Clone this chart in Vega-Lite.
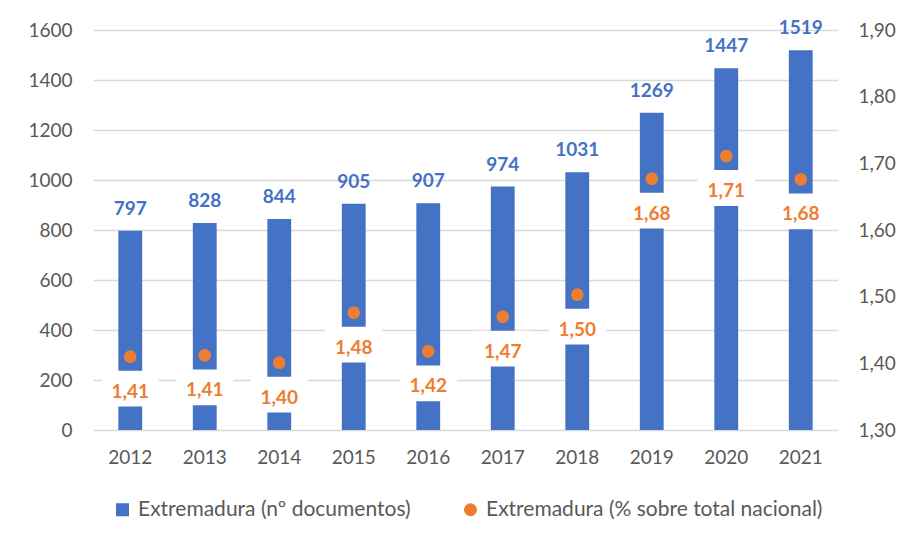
{
  "$schema": "https://vega.github.io/schema/vega-lite/v6.json",
  "width": 745,
  "height": 400,
  "autosize": "none",
  "padding": {"left": 93, "top": 30, "right": 65, "bottom": 110},
  "config": {
    "font": "Lato",
    "locale": {"number": {"decimal": ",", "thousands": ".", "grouping": [3], "currency": ["", " €"]}},
    "view": {"stroke": null},
    "axis": {"labelFont": "Lato", "labelFontSize": 19, "labelColor": "#595959", "domain": false, "ticks": false, "title": null},
    "legend": {"labelFont": "Lato", "labelFontSize": 21, "labelColor": "#595959", "padding": 0, "labelLimit": 0}
  },
  "data": {
    "values": [
      {"year": "2012", "serie": "Extremadura (nº documentos)", "value": 797},
      {"year": "2013", "serie": "Extremadura (nº documentos)", "value": 828},
      {"year": "2014", "serie": "Extremadura (nº documentos)", "value": 844},
      {"year": "2015", "serie": "Extremadura (nº documentos)", "value": 905},
      {"year": "2016", "serie": "Extremadura (nº documentos)", "value": 907},
      {"year": "2017", "serie": "Extremadura (nº documentos)", "value": 974},
      {"year": "2018", "serie": "Extremadura (nº documentos)", "value": 1031},
      {"year": "2019", "serie": "Extremadura (nº documentos)", "value": 1269},
      {"year": "2020", "serie": "Extremadura (nº documentos)", "value": 1447},
      {"year": "2021", "serie": "Extremadura (nº documentos)", "value": 1519},
      {"year": "2012", "serie": "Extremadura (% sobre total nacional)", "value": 1.41},
      {"year": "2013", "serie": "Extremadura (% sobre total nacional)", "value": 1.412},
      {"year": "2014", "serie": "Extremadura (% sobre total nacional)", "value": 1.401},
      {"year": "2015", "serie": "Extremadura (% sobre total nacional)", "value": 1.476},
      {"year": "2016", "serie": "Extremadura (% sobre total nacional)", "value": 1.418},
      {"year": "2017", "serie": "Extremadura (% sobre total nacional)", "value": 1.47},
      {"year": "2018", "serie": "Extremadura (% sobre total nacional)", "value": 1.503},
      {"year": "2019", "serie": "Extremadura (% sobre total nacional)", "value": 1.677},
      {"year": "2020", "serie": "Extremadura (% sobre total nacional)", "value": 1.711},
      {"year": "2021", "serie": "Extremadura (% sobre total nacional)", "value": 1.676}
    ]
  },
  "encoding": {
    "x": {
      "field": "year",
      "type": "ordinal",
      "scale": {"paddingInner": 0.68, "paddingOuter": 0.34},
      "axis": {"labelAngle": 0, "labelPadding": 18, "grid": false}
    }
  },
  "layer": [
    {
      "transform": [{"filter": "datum.serie == 'Extremadura (nº documentos)'"}],
      "layer": [
        {
          "mark": {"type": "bar"},
          "encoding": {
            "y": {
              "field": "value",
              "type": "quantitative",
              "scale": {"domain": [0, 1600]},
              "axis": {"values": [0, 200, 400, 600, 800, 1000, 1200, 1400, 1600], "format": "d", "grid": true, "gridColor": "#d9d9d9", "gridWidth": 1.5, "labelPadding": 21}
            },
            "color": {
              "field": "serie",
              "type": "nominal",
              "scale": {"domain": ["Extremadura (nº documentos)", "Extremadura (% sobre total nacional)"], "range": ["#4472C4", "#ED7D31"]},
              "legend": {"orient": "none", "legendX": 19, "legendY": 469, "direction": "horizontal", "title": null, "symbolSize": 170, "columnPadding": 49, "labelOffset": 5, "symbolStrokeWidth": 0, "labelLimit": 0}
            }
          }
        },
        {
          "mark": {"type": "text", "dy": -16, "baseline": "alphabetic", "fontWeight": "bold", "fontSize": 19, "color": "#4472C4"},
          "encoding": {
            "y": {"field": "value", "type": "quantitative"},
            "text": {"field": "value", "type": "quantitative", "format": "d"}
          }
        }
      ]
    },
    {
      "transform": [{"filter": "datum.serie == 'Extremadura (% sobre total nacional)'"}],
      "layer": [
        {
          "mark": {"type": "point", "shape": "M-1,-0.63L1,-0.63L1,0.63L-1,0.63Z", "filled": true, "color": "white", "opacity": 1, "size": 3249, "yOffset": 32, "strokeWidth": 0},
          "encoding": {
            "y": {
              "field": "value",
              "type": "quantitative",
              "scale": {"domain": [1.3, 1.9]},
              "axis": {"orient": "right", "values": [1.3, 1.4, 1.5, 1.6, 1.7, 1.8, 1.9], "format": ".2f", "grid": false, "labelPadding": 20}
            }
          }
        },
        {
          "mark": {"type": "point", "filled": true, "opacity": 1, "size": 160},
          "encoding": {
            "y": {"field": "value", "type": "quantitative"},
            "color": {"field": "serie", "type": "nominal"},
            "shape": {
              "field": "serie",
              "type": "nominal",
              "scale": {"domain": ["Extremadura (nº documentos)", "Extremadura (% sobre total nacional)"], "range": ["square", "circle"]}
            }
          }
        },
        {
          "mark": {"type": "text", "dy": 41, "baseline": "alphabetic", "fontWeight": "bold", "fontSize": 19, "color": "#ED7D31"},
          "encoding": {
            "y": {"field": "value", "type": "quantitative"},
            "text": {"field": "value", "type": "quantitative", "format": ".2f"}
          }
        }
      ]
    }
  ],
  "resolve": {"scale": {"y": "independent"}}
}
